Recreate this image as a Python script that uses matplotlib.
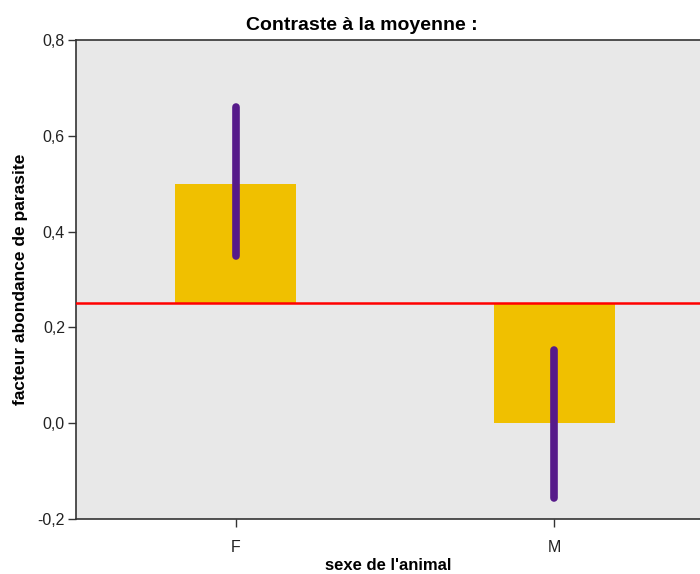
import numpy as np
import matplotlib.pyplot as plt
from matplotlib.ticker import FuncFormatter

# ── Data ─────────────────────────────────────────────
categories = ['F', 'M']
group_means = [0.50, 0.00]
ci_low = [0.35, -0.157]
ci_high = [0.66, 0.153]
grand_mean = 0.25

plt.rcParams['font.family'] = ['Liberation Sans Narrow', 'Liberation Sans', 'DejaVu Sans']

fig = plt.figure(figsize=(7, 5.74), dpi=100)
ax = fig.add_axes([0.1086, 0.0958, 0.8914, 0.8345])
ax.set_facecolor('#E8E8E8')

x = np.arange(len(categories))
heights = [m - grand_mean for m in group_means]
ax.bar(x, heights, width=0.38, bottom=grand_mean, color='#F0C000', zorder=2)

ax.axhline(grand_mean, color='#FF0000', linewidth=1.8, zorder=3)

for xi, lo, hi in zip(x, ci_low, ci_high):
    ax.plot([xi, xi], [lo, hi], color='#561A8A', linewidth=5.5,
            solid_capstyle='round', zorder=4)

ax.set_xlim(-0.502, 1.458)
ax.set_ylim(-0.2, 0.8)
ax.set_yticks([-0.2, 0.0, 0.2, 0.4, 0.6, 0.8])
ax.yaxis.set_major_formatter(FuncFormatter(lambda v, p: f'{v:.1f}'.replace('.', ',')))
ax.set_xticks(x)
ax.set_xticklabels(categories)

for s in ['left', 'bottom', 'top']:
    ax.spines[s].set_color('#333333')
    ax.spines[s].set_linewidth(1.2)
ax.spines['right'].set_visible(False)
ax.tick_params(axis='both', length=6, width=1, color='#333333', labelsize=11.5, labelcolor='#222222')
ax.tick_params(axis='x', pad=9)
ax.tick_params(axis='y', pad=2)

ax.set_title('Contraste à la moyenne :', fontsize=14, fontweight='bold', pad=7, x=0.458)
ax.set_xlabel("sexe de l'animal", fontsize=12, fontweight='bold', labelpad=2)
ax.set_ylabel('facteur abondance de parasite', fontsize=12.5, fontweight='bold', labelpad=7)

plt.savefig('out.png', dpi=100)
